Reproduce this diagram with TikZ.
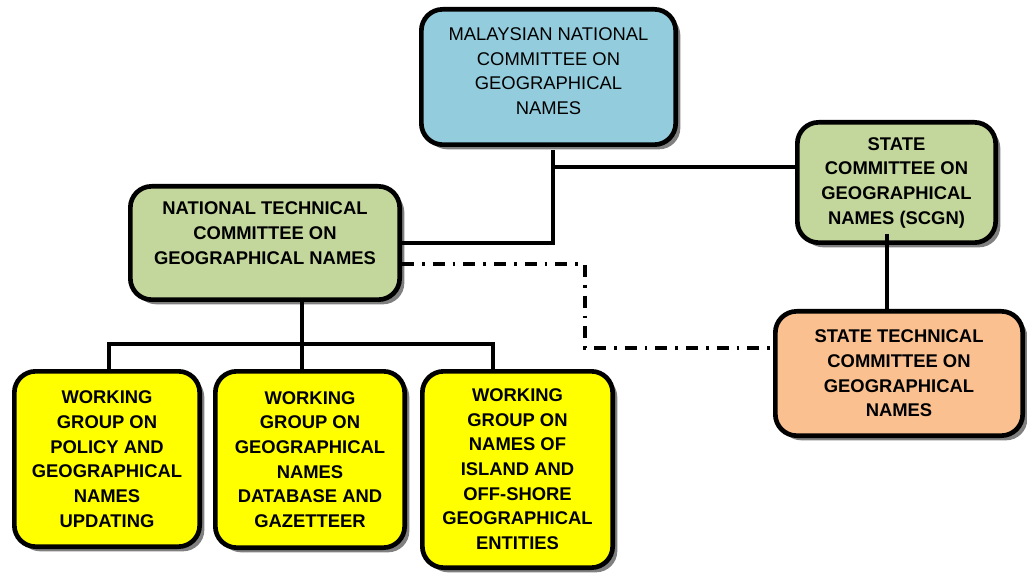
\documentclass[tikz,border=0pt]{standalone}
\usepackage{fontspec}
\setmainfont{Liberation Sans}
\usetikzlibrary{shadows}
\definecolor{mncblue}{HTML}{93CDDD}
\definecolor{techgreen}{HTML}{C3D69B}
\definecolor{stateorange}{HTML}{FAC090}
\definecolor{wgyellow}{HTML}{FFFF00}
\begin{document}
\begin{tikzpicture}[x=0.75pt,y=-0.75pt,
  box/.style={draw, line width=3.5pt, rounded corners=16pt, align=center, inner sep=2pt,
    font=\fontsize{13.8}{18.5}\selectfont\bfseries,
    drop shadow={shadow xshift=3.5pt, shadow yshift=-3.5pt, fill=black!50, opacity=1}},
  link/.style={line width=2.6pt},
  dashlink/.style={line width=2.6pt, dash pattern=on 9pt off 6pt on 2pt off 6pt}]
\useasboundingbox (0,0) rectangle (1027,573);
\node[box, fill=mncblue, font=\fontsize{13.8}{18.5}\selectfont, minimum width=190.75pt, minimum height=101.5pt]
  (mncgn) at (548.5,77) {MALAYSIAN NATIONAL\\COMMITTEE ON\\GEOGRAPHICAL\\NAMES\\[-9.5pt]};
\node[box, fill=techgreen, minimum width=148.75pt, minimum height=90.25pt]
  (scgn) at (896.5,182.5) {STATE\\COMMITTEE ON\\GEOGRAPHICAL\\NAMES (SCGN)};
\node[box, fill=techgreen, minimum width=202pt, minimum height=85pt]
  (ntcgn) at (265,243) {NATIONAL TECHNICAL\\COMMITTEE ON\\GEOGRAPHICAL NAMES\\[-3.5pt]};
\node[box, fill=stateorange, minimum width=185.5pt, minimum height=93.25pt]
  (stcgn) at (899,373.5) {STATE TECHNICAL\\COMMITTEE ON\\GEOGRAPHICAL\\NAMES};
\node[box, fill=wgyellow, minimum width=139pt, minimum height=131.5pt]
  (wgpolicy) at (107,459) {WORKING\\GROUP ON\\POLICY AND\\GEOGRAPHICAL\\NAMES\\UPDATING};
\node[box, fill=wgyellow, minimum width=142pt, minimum height=132.25pt]
  (wgdata) at (310,459.5) {WORKING\\GROUP ON\\GEOGRAPHICAL\\NAMES\\DATABASE AND\\GAZETTEER};
\node[box, fill=wgyellow, minimum width=142.75pt, minimum height=147.25pt]
  (wgisland) at (517.5,469.5) {\mbox{}\\[-9.5pt]WORKING\\GROUP ON\\NAMES OF\\ISLAND AND\\OFF-SHORE\\GEOGRAPHICAL\\ENTITIES};

\coordinate (top) at (553,150);
\coordinate (join) at (553,167);
\coordinate (sdown) at (887,234);
\coordinate (dd) at (585,348);
\coordinate (bus) at (302,344);
\coordinate (busl) at (109,344);
\coordinate (busr) at (493,344);

\draw[link] (top) |- (ntcgn.east);
\draw[link] (join) -- (join -| scgn.west);
\draw[link] (sdown) -- (sdown |- stcgn.north);
\draw[dashlink] ([yshift=-15.75pt]ntcgn.east) -| (dd) -- (dd -| stcgn.west);
\draw[link] (bus |- ntcgn.south) -- (bus |- wgdata.north);
\draw[link] (busl |- wgpolicy.north) -- (busl) -- (busr) -- (busr |- wgisland.north);
\end{tikzpicture}
\end{document}
